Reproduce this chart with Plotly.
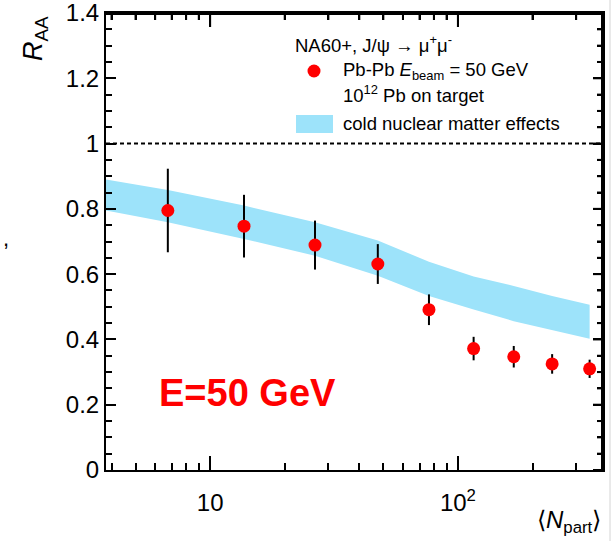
import numpy as np
import plotly.graph_objects as go

# ---- data ----
npart = [6.75, 13.7, 26.5, 47.5, 76.4, 115.7, 168, 240, 340]
raa = [0.795, 0.747, 0.689, 0.631, 0.491, 0.372, 0.347, 0.325, 0.310]
raa_err = [0.128, 0.096, 0.075, 0.061, 0.047, 0.036, 0.033, 0.030, 0.028]

band_x = [3.8, 6.75, 13.7, 26.5, 47.5, 76.4, 115.7, 168, 240, 340]
band_hi = [0.890, 0.858, 0.810, 0.759, 0.703, 0.638, 0.593, 0.564, 0.533, 0.506]
band_lo = [0.795, 0.759, 0.708, 0.656, 0.595, 0.533, 0.492, 0.456, 0.428, 0.402]

x_major = [10, 100]
x_major_text = ["10", "10<sup>2</sup>"]
x_minor = [4, 5, 6, 7, 8, 9, 20, 30, 40, 50, 60, 70, 80, 90, 200, 300]
y_major = [0, 0.2, 0.4, 0.6, 0.8, 1.0, 1.2, 1.4]
y_major_text = ["0", "0.2", "0.4", "0.6", "0.8", "1", "1.2", "1.4"]
y_minor = [round(0.05 * i, 2) for i in range(29)]

FONT = "Liberation Sans, Arial, Helvetica, sans-serif"
BAND_COLOR = "#9DE3FA"
X_LO, X_HI = 3.8, 385
XR = [np.log10(X_LO), np.log10(X_HI)]
YR = [0, 1.4]

W, H = 614, 541
L, R, T, B = 106, 11, 13, 71
pw, ph = W - L - R, H - T - B


def px(x):
    return (x - L) / pw


def py(y):
    return (H - B - y) / ph


fig = go.Figure()

# cold nuclear matter band
fig.add_trace(go.Scatter(
    x=band_x + band_x[::-1],
    y=band_hi + band_lo[::-1],
    fill="toself", fillcolor=BAND_COLOR,
    line=dict(width=0, color=BAND_COLOR),
    mode="lines", hoverinfo="skip", showlegend=False,
))

# data points
fig.add_trace(go.Scatter(
    x=npart, y=raa, mode="markers",
    marker=dict(color="#ff0000", size=13, line=dict(width=0)),
    error_y=dict(type="data", array=raa_err, color="black", thickness=2, width=0),
    showlegend=False,
))

# mirrored ticks on top (x scale) and right (y scale), via the axes' scales
y_per_px = (YR[1] - YR[0]) / ph
logx_per_px = (XR[1] - XR[0]) / pw
tx, ty = [], []
for v in x_major + x_minor:
    ln = 14 if v in x_major else 7
    tx += [v, v, None]
    ty += [YR[1], YR[1] - ln * y_per_px, None]
for v in y_minor:
    ln = 10 if any(abs(v - m) < 1e-9 for m in y_major) else 6
    tx += [X_HI, X_HI / 10 ** (ln * logx_per_px), None]
    ty += [v, v, None]
fig.add_trace(go.Scatter(x=tx, y=ty, mode="lines",
                         line=dict(color="black", width=2),
                         hoverinfo="skip", showlegend=False))

tickfont = dict(family=FONT, size=24, color="black")


def frame_axis(**kw):
    d = dict(
        ticks="inside", tickwidth=2, tickcolor="black",
        showline=True, linecolor="black", linewidth=2,
        showgrid=False, zeroline=False, automargin=False,
    )
    d.update(kw)
    return d


fig.update_layout(
    template="none",
    xaxis=frame_axis(
        type="log", range=XR, mirror="ticks",
        tickmode="array", tickvals=x_major, ticktext=x_major_text, ticklen=14,
        tickfont=tickfont, ticklabeloverflow="allow", ticklabelstandoff=10,
        minor=dict(tickmode="array", tickvals=x_minor, ticks="inside",
                   ticklen=7, tickwidth=2, tickcolor="black", showgrid=False),
    ),
    yaxis=frame_axis(
        range=YR, mirror="ticks",
        tickmode="array", tickvals=y_major, ticktext=y_major_text, ticklen=10,
        tickfont=tickfont, ticklabeloverflow="allow",
        minor=dict(tickmode="array", tickvals=y_minor, ticks="inside",
                   ticklen=6, tickwidth=2, tickcolor="black", showgrid=False),
    ),
)

shapes = [
    # reference line at 1
    dict(type="line", xref="paper", yref="y", x0=0, x1=1, y0=1, y1=1,
         line=dict(color="black", width=2, dash="4px,3px")),
    # top and right frame lines, kept just inside the plot edge
    dict(type="line", xref="paper", yref="paper",
         x0=px(105), x1=px(603), y0=py(14), y1=py(14),
         line=dict(color="black", width=2), layer="above"),
    dict(type="line", xref="paper", yref="paper",
         x0=px(602), x1=px(602), y0=py(471), y1=py(13),
         line=dict(color="black", width=2), layer="above"),
    # legend: red dot
    dict(type="circle", xref="paper", yref="paper",
         x0=px(307.5), x1=px(320.5), y0=py(77.5), y1=py(64.5),
         fillcolor="#ff0000", line=dict(width=0)),
    # legend: band box
    dict(type="rect", xref="paper", yref="paper",
         x0=px(296), x1=px(333), y0=py(133), y1=py(115),
         fillcolor=BAND_COLOR, line=dict(width=0)),
    # window edge line
    dict(type="line", xref="paper", yref="paper",
         x0=px(610), x1=px(610), y0=py(0), y1=py(541),
         line=dict(color="#d4d4d4", width=1)),
]

leg_font = dict(family=FONT, size=18.5, color="black")
annotations = [
    dict(text="NA60+, J/\u03c8 \u2192 \u03bc<sup>+</sup>\u03bc<sup>-</sup>",
         x=px(293), y=py(44), xanchor="left", yanchor="middle", font=leg_font),
    dict(text="Pb-Pb <i>E</i><sub>beam</sub> = 50 GeV",
         x=px(341), y=py(71), xanchor="left", yanchor="middle", font=leg_font),
    dict(text="10<sup>12</sup> Pb on target",
         x=px(341), y=py(94), xanchor="left", yanchor="middle", font=leg_font),
    dict(text="cold nuclear matter effects",
         x=px(341), y=py(123), xanchor="left", yanchor="middle", font=leg_font),
    dict(text="<b>E=50 GeV</b>",
         x=px(157), y=py(393), xanchor="left", yanchor="middle",
         font=dict(family=FONT, size=38, color="#ff0000")),
    dict(text="<i>R</i><sub>AA</sub>", textangle=-90,
         x=px(35), y=py(39), xanchor="center", yanchor="middle",
         font=dict(family=FONT, size=27, color="black")),
    dict(text="\u27e8<i>N</i><sub>part</sub>\u27e9",
         x=px(603), y=py(521), xanchor="right", yanchor="middle",
         font=dict(family=FONT, size=24, color="black")),
    dict(text=",", x=px(6), y=py(238), xanchor="center", yanchor="middle",
         font=dict(family=FONT, size=22, color="black")),
]
for a in annotations:
    a.update(xref="paper", yref="paper", showarrow=False)

fig.update_layout(
    width=W, height=H,
    margin=dict(l=L, r=R, t=T, b=B, pad=0),
    paper_bgcolor="white", plot_bgcolor="white",
    shapes=shapes, annotations=annotations,
    showlegend=False,
    font=dict(family=FONT, color="black"),
)

fig.write_html("out.html")
